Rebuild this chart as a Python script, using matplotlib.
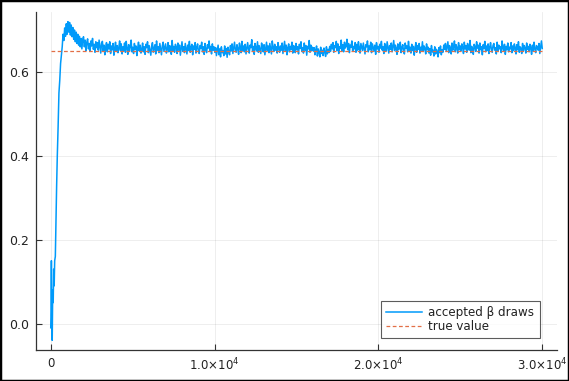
import numpy as np
import matplotlib
matplotlib.use("Agg")
import matplotlib.pyplot as plt
from matplotlib.patches import Rectangle

# ---- data ----
true_value = 0.65
n_iter = 30000

burn_x = [0, 20, 40, 60, 90, 120, 150, 180, 210, 240, 280, 320, 360, 400, 450,
          500, 550, 600, 650, 700, 750, 800, 850, 900, 950, 1000, 1050, 1100,
          1150, 1200, 1250, 1300, 1350, 1400, 1450, 1500, 1550, 1600, 1650,
          1700, 1750, 1800, 1850, 1900, 1950]
burn_y = [-0.01, 0.03, 0.15, 0.02, -0.04, 0.08, 0.05, 0.13, 0.09, 0.15, 0.16,
          0.25, 0.33, 0.40, 0.47, 0.55, 0.58, 0.62, 0.64, 0.66, 0.69, 0.675,
          0.705, 0.685, 0.715, 0.69, 0.72, 0.695, 0.718, 0.688, 0.712, 0.684,
          0.706, 0.678, 0.70, 0.672, 0.695, 0.668, 0.69, 0.664, 0.685, 0.66,
          0.68, 0.655, 0.677]

# stationary part (thousandths), iterations 2000 .. 30000
stat_milli = [
    684, 660, 676, 651, 671, 679, 655, 668, 649, 674, 662, 680, 654, 666, 647, 672, 658, 670, 652, 676,
    661, 645, 668, 673, 650, 664, 641, 659, 670, 648, 666, 655, 672, 644, 662, 653, 668, 640, 657, 671,
    649, 663, 646, 658, 674, 651, 667, 643, 660, 652, 669, 647, 673, 656, 642, 665, 650, 661, 676, 648,
    659, 644, 668, 654, 662, 639, 657, 671, 650, 664, 645, 653, 669, 648, 660, 642, 666, 658, 672, 646,
    663, 651, 640, 661, 670, 647, 656, 665, 643, 674, 652, 660, 646, 668, 655, 641, 662, 671, 649, 658,
    667, 645, 653, 670, 648, 663, 656, 642, 675, 650, 661, 647, 666, 659, 644, 669, 652, 664, 640, 657,
    672, 649, 660, 646, 668, 655, 643, 664, 651, 673, 647, 658, 666, 641, 662, 654, 670, 645, 659, 667,
    650, 644, 663, 656, 671, 648, 660, 642, 668, 653, 646, 665, 657, 674, 649, 661, 643, 667, 652, 660,
    647, 658, 639, 652, 664, 641, 655, 636, 660, 646, 651, 639, 662, 643, 656, 635, 659, 648, 641, 663,
    650, 667, 644, 658, 671, 652, 647, 665, 655, 642, 669, 659, 646, 673, 651, 662, 648, 666, 643, 657,
    670, 654, 645, 664, 658, 677, 649, 661, 642, 668, 656, 650, 672, 647, 663, 653, 644, 669, 660, 648,
    665, 641, 657, 671, 651, 662, 646, 668, 655, 643, 674, 658, 649, 666, 652, 660, 645, 670, 656, 647,
    662, 652, 669, 644, 659, 673, 650, 664, 641, 657, 667, 648, 661, 654, 671, 645, 663, 658, 646, 668,
    653, 660, 643, 666, 656, 672, 649, 658, 645, 669, 652, 663, 640, 661, 655, 675, 647, 664, 651, 659,
    650, 658, 641, 653, 662, 638, 655, 647, 636, 659, 644, 652, 639, 657, 648, 637, 660, 643, 654, 646,
    661, 649, 666, 655, 670, 647, 663, 658, 673, 651, 667, 644, 660, 656, 676, 650, 665, 648, 671, 657,
    662, 678, 653, 668, 646, 664, 659, 674, 650, 661, 655, 670, 647, 666, 652, 672, 657, 645, 668, 660,
    651, 669, 656, 643, 665, 660, 674, 648, 662, 653, 671, 646, 667, 658, 650, 664, 642, 670, 655, 661,
    647, 666, 657, 673, 652, 660, 644, 668, 655, 650, 672, 659, 645, 663, 654, 669, 648, 661, 675, 651,
    664, 656, 642, 667, 653, 660, 671, 646, 658, 665, 650, 643, 669, 657, 662, 648, 673, 652, 659, 645,
    666, 651, 661, 640, 657, 670, 647, 663, 654, 668, 645, 659, 652, 672, 649, 662, 656, 643, 667, 653,
    659, 645, 656, 640, 663, 648, 652, 638, 660, 643, 654, 649, 636, 658, 646, 662, 641, 653, 647, 664,
    654, 668, 649, 660, 672, 646, 663, 656, 643, 669, 652, 661, 674, 648, 665, 657, 645, 670, 653, 662,
    650, 667, 659, 644, 671, 655, 663, 647, 668, 658, 652, 675, 646, 661, 656, 642, 666, 660, 649, 672,
    657, 664, 645, 669, 653, 660, 641, 665, 656, 673, 648, 662, 651, 667, 644, 659, 670, 654, 647, 663,
    668, 652, 658, 643, 671, 649, 664, 655, 660, 646, 674, 657, 650, 666, 642, 661, 653, 669, 648, 659,
    655, 670, 646, 662, 651, 667, 658, 643, 665, 653, 672, 647, 660, 656, 644, 668, 651, 663, 657, 645,
    669, 654, 661, 648, 666, 657, 642, 664, 650, 671, 655, 646, 663, 659, 652, 668, 644, 660, 674, 656,
]

x_ticks = [0, 10000, 20000, 30000]
x_tick_labels = ["0", "1.0×10$^{4}$", "2.0×10$^{4}$", "3.0×10$^{4}$"]
y_ticks = [0.0, 0.2, 0.4, 0.6]
y_tick_labels = ["0.0", "0.2", "0.4", "0.6"]

# ---- build series ----
stat_x = np.linspace(2000, n_iter, len(stat_milli))
trace_x = np.concatenate([burn_x, stat_x])
trace_y = np.concatenate([burn_y, np.array(stat_milli) / 1000.0])

blue = "#009AFA"
orange = "#E26F46"

plt.rcParams["mathtext.fontset"] = "dejavusans"
plt.rcParams["mathtext.default"] = "regular"

fig = plt.figure(figsize=(5.69, 3.81), dpi=100)
ax = fig.add_axes([36 / 569, 1 - 350 / 381, (557 - 36) / 569, (350 - 12) / 381])

ax.plot(trace_x, trace_y, color=blue, lw=1.1, label="accepted β draws")
ax.plot([1, n_iter], [true_value, true_value], color=orange, lw=0.9,
        ls=(0, (3, 2)), label="true value")

ax.set_xlim(-900, 30900)
ax.set_ylim(-0.063, 0.743)
ax.set_xticks(x_ticks)
ax.set_xticklabels(x_tick_labels)
ax.set_yticks(y_ticks)
ax.set_yticklabels(y_tick_labels)

for s in ["top", "right"]:
    ax.spines[s].set_visible(False)
for s in ["left", "bottom"]:
    ax.spines[s].set_color("#333333")
    ax.spines[s].set_linewidth(0.9)

ax.tick_params(direction="in", length=4, width=0.8, color="#333333",
               labelsize=9, labelcolor="#222222", pad=5)
ax.tick_params(axis="x", labelsize=8.5)
ax.grid(True, color="#000000", alpha=0.08, lw=0.6)
ax.set_axisbelow(True)

leg = ax.legend(loc="lower right", bbox_to_anchor=(0.967, 0.035), fontsize=8.6,
                frameon=True, fancybox=False, handlelength=3.0,
                borderpad=0.45, labelspacing=0.05, handletextpad=0.55,
                borderaxespad=0)
leg.get_frame().set_edgecolor("#333333")
leg.get_frame().set_linewidth(0.8)
for t in leg.get_texts():
    t.set_color("#222222")

fig.patches.append(Rectangle((0, 0), 1, 1, transform=fig.transFigure,
                             fill=False, edgecolor="black", lw=2.5))

fig.savefig("out.png", dpi=100)
